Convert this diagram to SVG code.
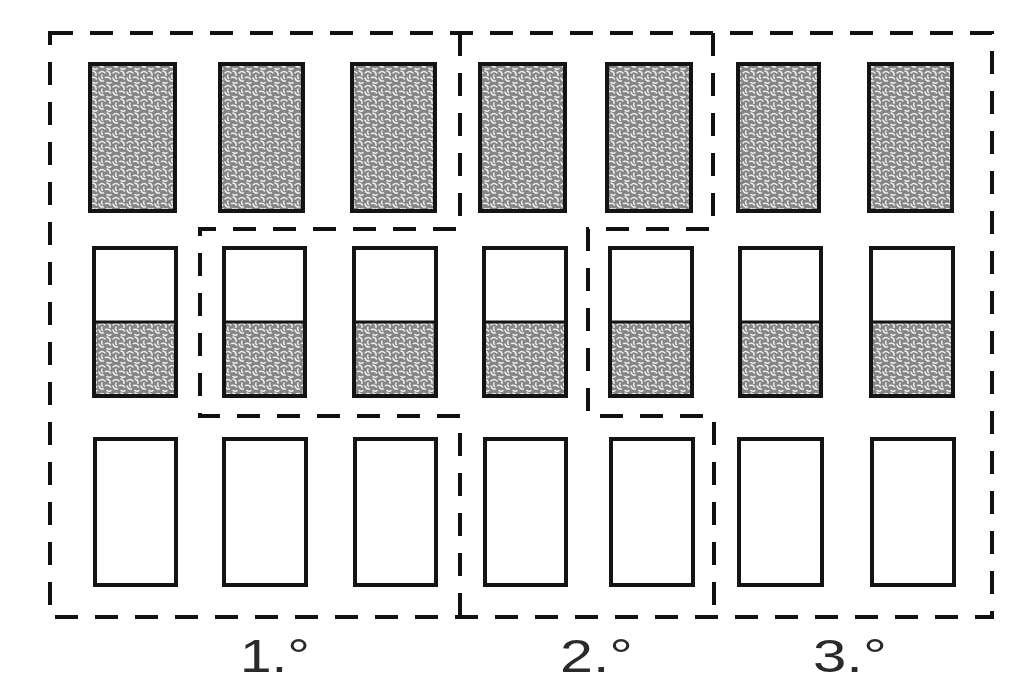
<svg xmlns="http://www.w3.org/2000/svg" width="1024" height="683" viewBox="0 0 1024 683">
  <defs>
    <pattern id="stip" width="14" height="14" patternUnits="userSpaceOnUse">
      <rect width="14" height="14" fill="#858585"/>
      <path d="M1 3 q3 -3 6 0 M9 1 q3.5 1 3 4.5 M1 8 q1 3.5 4.5 3 M7.5 7.5 q3.5 -1 5 1.5 M9 12.5 q2.5 1.5 4 0 M4 5 q-1 2 0.5 3.5" stroke="#eeeeee" stroke-width="1.5" fill="none" stroke-linecap="round"/>
    </pattern>
  </defs>
  <style>
    .full { fill: url(#stip); stroke: #141414; stroke-width: 4; }
    .empty { fill: #ffffff; stroke: #141414; stroke-width: 4; }
    .frame { fill: none; stroke: #141414; stroke-width: 4; }
    .half { fill: url(#stip); stroke: none; }
    .mid { fill: none; stroke: #141414; stroke-width: 3; }
    .dash { fill: none; stroke: #111111; stroke-width: 4; stroke-dasharray: 23 17; }
    .lbl { font-family: "Liberation Sans", Arial, sans-serif; font-size: 46px; fill: #2a2a2a; }
  </style>
  <rect width="1024" height="683" fill="#ffffff"/>

  <g id="row-top">
    <g id="t1"><rect class="full" x="90" y="64" width="85" height="147"/></g>
    <g id="t2"><rect class="full" x="220" y="64" width="83" height="147"/></g>
    <g id="t3"><rect class="full" x="352" y="64" width="83" height="147"/></g>
    <g id="t4"><rect class="full" x="480" y="64" width="85" height="147"/></g>
    <g id="t5"><rect class="full" x="607" y="64" width="84" height="147"/></g>
    <g id="t6"><rect class="full" x="738" y="64" width="81" height="147"/></g>
    <g id="t7"><rect class="full" x="869" y="64" width="83" height="147"/></g>
  </g>

  <g id="row-middle">
    <g id="m1"><rect class="empty" x="94" y="248" width="82" height="148"/><rect class="half" x="94" y="322" width="82" height="74"/><line class="mid" x1="94" y1="322" x2="176" y2="322"/><rect class="frame" x="94" y="248" width="82" height="148"/></g>
    <g id="m2"><rect class="empty" x="224" y="248" width="81" height="148"/><rect class="half" x="224" y="322" width="81" height="74"/><line class="mid" x1="224" y1="322" x2="305" y2="322"/><rect class="frame" x="224" y="248" width="81" height="148"/></g>
    <g id="m3"><rect class="empty" x="354" y="248" width="82" height="148"/><rect class="half" x="354" y="322" width="82" height="74"/><line class="mid" x1="354" y1="322" x2="436" y2="322"/><rect class="frame" x="354" y="248" width="82" height="148"/></g>
    <g id="m4"><rect class="empty" x="484" y="248" width="82" height="148"/><rect class="half" x="484" y="322" width="82" height="74"/><line class="mid" x1="484" y1="322" x2="566" y2="322"/><rect class="frame" x="484" y="248" width="82" height="148"/></g>
    <g id="m5"><rect class="empty" x="610" y="248" width="82" height="148"/><rect class="half" x="610" y="322" width="82" height="74"/><line class="mid" x1="610" y1="322" x2="692" y2="322"/><rect class="frame" x="610" y="248" width="82" height="148"/></g>
    <g id="m6"><rect class="empty" x="740" y="248" width="81" height="148"/><rect class="half" x="740" y="322" width="81" height="74"/><line class="mid" x1="740" y1="322" x2="821" y2="322"/><rect class="frame" x="740" y="248" width="81" height="148"/></g>
    <g id="m7"><rect class="empty" x="871" y="248" width="82" height="148"/><rect class="half" x="871" y="322" width="82" height="74"/><line class="mid" x1="871" y1="322" x2="953" y2="322"/><rect class="frame" x="871" y="248" width="82" height="148"/></g>
  </g>

  <g id="row-bottom">
    <g id="b1"><rect class="empty" x="95" y="439" width="81" height="146"/></g>
    <g id="b2"><rect class="empty" x="224" y="439" width="82" height="146"/></g>
    <g id="b3"><rect class="empty" x="355" y="439" width="81" height="146"/></g>
    <g id="b4"><rect class="empty" x="485" y="439" width="81" height="146"/></g>
    <g id="b5"><rect class="empty" x="611" y="439" width="82" height="146"/></g>
    <g id="b6"><rect class="empty" x="739" y="439" width="83" height="146"/></g>
    <g id="b7"><rect class="empty" x="872" y="439" width="82" height="146"/></g>
  </g>

  <g id="connectors">
    <rect class="dash" x="50" y="33" width="942" height="584"/>
    <path class="dash" d="M460 33 V229 H200 V416 H460 V617"/>
    <path class="dash" d="M713 33 V229 H588 V416 H714 V617"/>
  </g>

  <g id="labels">
    <text class="lbl" x="240" y="672" textLength="70" lengthAdjust="spacingAndGlyphs">1.°</text>
    <text class="lbl" x="560" y="672" textLength="73" lengthAdjust="spacingAndGlyphs">2.°</text>
    <text class="lbl" x="813" y="672" textLength="74" lengthAdjust="spacingAndGlyphs">3.°</text>
  </g>
</svg>
